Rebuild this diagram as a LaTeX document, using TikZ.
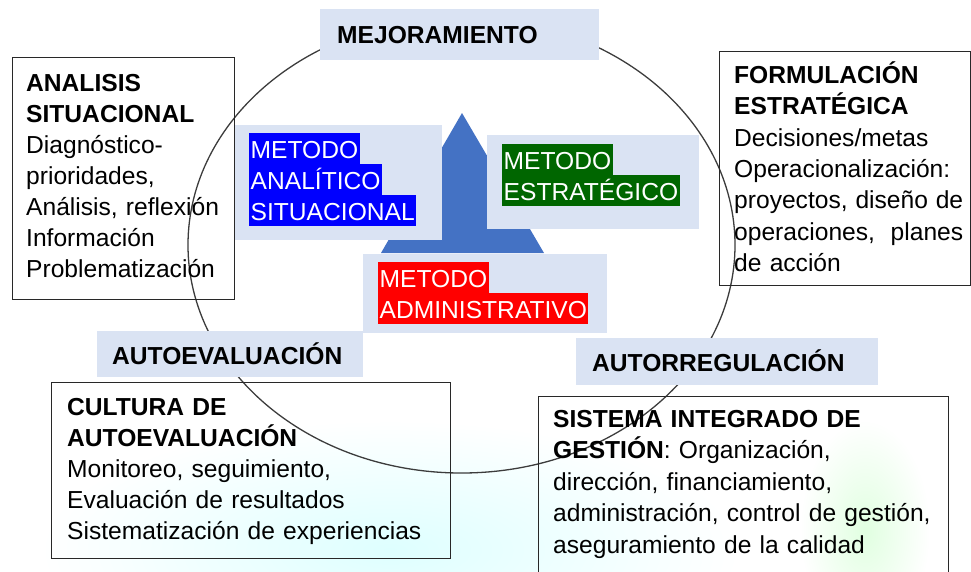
\documentclass[tikz,border=0pt]{standalone}
\usepackage{fontspec}
\setmainfont{Liberation Sans}
\definecolor{lightbox}{RGB}{218,227,243}
\definecolor{triblue}{RGB}{68,114,196}
\definecolor{hlgreen}{RGB}{0,102,0}
\definecolor{hlblue}{RGB}{0,0,255}
\definecolor{hlred}{RGB}{255,0,0}
\definecolor{edgec}{RGB}{40,40,40}
\definecolor{ringc}{RGB}{60,60,60}
\newcommand\firststrut{\rule{0pt}{24pt}}
\newcommand\hlstrut{\rule[-6pt]{0pt}{31pt}}
\newcommand\spreadline[1]{\leavevmode\hbox to 229pt{#1}}
\newcommand\bodyfont[1]{\fontsize{24.6}{#1}\selectfont}
\tikzset{
  lbox/.style={fill=lightbox, draw=none, inner sep=0pt, anchor=north west},
  tbox/.style={draw=edgec, line width=1.4pt, inner sep=0pt, anchor=north west},
  ttl/.style={font=\bodyfont{31}\bfseries, anchor=base west, inner sep=0pt},
  body/.style={anchor=north west, inner sep=0pt, align=left},
  hl/.style={anchor=north west, inner xsep=1.5pt, inner ysep=0pt, text=white, font=\bodyfont{31}},
  ring/.style={draw=ringc, line width=1.3pt}
}
\begin{document}
\begin{tikzpicture}[x=1pt,y=-1pt]
\useasboundingbox (0,0) rectangle (971,571);
\clip (0,0) rectangle (971,571);
% faint background
\shade[inner color=cyan!13, outer color=white] (390,550) ellipse [x radius=350pt, y radius=130pt];
\shade[inner color=green!12!white, outer color=white] (865,530) ellipse [x radius=65pt, y radius=110pt];
% blue triangle
\fill[triblue] (462,113) -- (544,253) -- (381,253) -- cycle;
% ring
\draw[ring] (461.5,245) ellipse [x radius=273.5pt, y radius=228pt];
% light boxes
\node[lbox, minimum width=279pt, minimum height=51pt] (mej) at (320,9) {};
\node[lbox, minimum width=266pt, minimum height=46pt] (ae) at (97,331) {};
\node[lbox, minimum width=302pt, minimum height=47pt] (ar) at (576,338) {};
\node[lbox, minimum width=207pt, minimum height=115pt] (ma) at (235,125) {};
\node[lbox, minimum width=212pt, minimum height=94pt] (me) at (487,135) {};
\node[lbox, minimum width=244pt, minimum height=79pt] (mad) at (363,254) {};
% outlined boxes
\node[tbox, minimum width=222pt, minimum height=242pt] (asbox) at (12,57) {};
\node[tbox, minimum width=251pt, minimum height=234pt] (febox) at (719,51) {};
\node[tbox, minimum width=399pt, minimum height=176pt] (cabox) at (51,382) {};
\node[tbox, minimum width=410pt, minimum height=200pt] (sibox) at (538,396) {};
% titles in light boxes
\node[ttl] (mejt) at (337,43) {MEJORAMIENTO};
\node[ttl] (aet) at (112,364) {AUTOEVALUACIÓN};
\node[ttl] (art) at (592,371) {AUTORREGULACIÓN};
% highlighted method labels
\node[hl, fill=hlblue] (ma1) at (249,133) {\hlstrut METODO};
\node[hl, fill=hlblue] (ma2) at (249,164) {\hlstrut ANALÍTICO};
\node[hl, fill=hlblue] (ma3) at (249,195) {\hlstrut SITUACIONAL};
\node[hl, fill=hlgreen] (me1) at (502,144) {\hlstrut METODO};
\node[hl, fill=hlgreen] (me2) at (502,175) {\hlstrut ESTRATÉGICO};
\node[hl, fill=hlred] (mad1) at (378,262) {\hlstrut METODO};
\node[hl, fill=hlred] (mad2) at (378,293) {\hlstrut ADMINISTRATIVO};
% box texts
\node[body, text width=205pt, font=\bodyfont{31}] (ast) at (26,67)
  {\firststrut\textbf{ANALISIS}\\ \textbf{SITUACIONAL}\\ Diagnóstico-\\ prioridades,\\ Análisis, reflexión\\ Información\\ Problematización};
\node[body, text width=232pt, font=\bodyfont{31.4}] (fet) at (734,59)
  {\firststrut\textbf{FORMULACIÓN}\\ \textbf{ESTRATÉGICA}\\ Decisiones/metas\\ Operacionalización:\\ \spreadline{proyectos,\hfill diseño\hfill de}\\ \spreadline{operaciones,\hfill planes}\\ de acción};
\node[body, text width=380pt, font=\bodyfont{31}] (cat) at (67,391)
  {\firststrut\textbf{CULTURA DE}\\ \textbf{AUTOEVALUACIÓN}\\ Monitoreo, seguimiento,\\ Evaluación de resultados\\ Sistematización de experiencias};
\node[body, text width=392pt, font=\bodyfont{31.5}] (sit) at (553,403)
  {\firststrut\textbf{SISTEMA INTEGRADO DE}\\ \textbf{GESTIÓN}: Organización,\\ dirección, financiamiento,\\ administración, control de gestión,\\ aseguramiento de la calidad};
\end{tikzpicture}
\end{document}
